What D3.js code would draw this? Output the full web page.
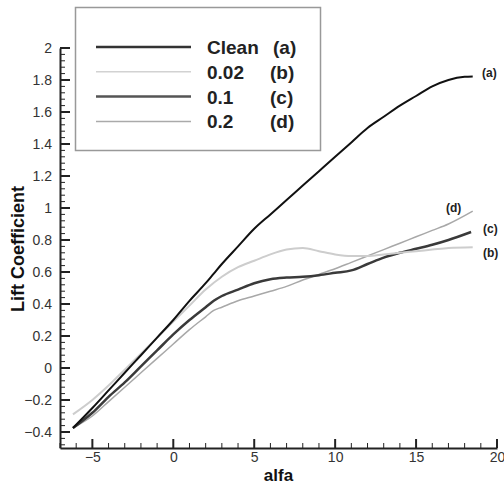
<!DOCTYPE html>
<html>
<head>
<meta charset="utf-8">
<script src="https://cdn.jsdelivr.net/npm/d3@7.9.0/dist/d3.min.js"></script>
<style>
  body { margin: 0; background: #fff; }
  svg { display: block; font-family: "Liberation Sans", Arial, sans-serif; }
</style>
</head>
<body>
<svg id="chart" width="504" height="486"></svg>
<script>
// Angle of attack values for each series
const alfaClean = [-6.2, -5, -4, -3, -2, -1, 0, 1, 2, 2.5, 3, 4, 5, 6, 7, 8, 9, 10, 11, 12, 13, 14, 15, 16, 17, 18, 18.5];
const liftClean = [-0.375, -0.25, -0.14, -0.03, 0.08, 0.19, 0.30, 0.42, 0.53, 0.59, 0.65, 0.76, 0.87, 0.96, 1.05, 1.14, 1.23, 1.32, 1.41, 1.50, 1.57, 1.64, 1.70, 1.76, 1.80, 1.82, 1.822];

const alfa002 = [-6.2, -5, -4, -3, -2, -1, 0, 1, 2, 3, 4, 5, 6, 7, 8, 9, 10, 11, 12, 13, 14, 15, 16, 17, 18.5];
const lift002 = [-0.29, -0.20, -0.11, -0.01, 0.09, 0.19, 0.29, 0.39, 0.49, 0.57, 0.63, 0.67, 0.71, 0.74, 0.75, 0.73, 0.71, 0.70, 0.70, 0.71, 0.72, 0.73, 0.74, 0.75, 0.755];

const alfa01 = [-6.2, -5, -4, -3, -2, -1, 0, 1, 2, 2.5, 3, 4, 5, 6, 7, 8, 9, 10, 11, 12, 13, 14, 15, 16, 17, 18.4];
const lift01 = [-0.375, -0.28, -0.18, -0.09, 0.01, 0.11, 0.21, 0.30, 0.38, 0.42, 0.45, 0.49, 0.53, 0.555, 0.565, 0.57, 0.58, 0.595, 0.61, 0.65, 0.69, 0.72, 0.745, 0.77, 0.80, 0.85];

const alfa02 = [-6.2, -5, -4, -3, -2, -1, 0, 1, 2, 2.5, 3, 4, 5, 6, 7, 8, 9, 10, 11, 12, 13, 14, 15, 16, 17, 18.5];
const lift02 = [-0.375, -0.30, -0.21, -0.12, -0.03, 0.06, 0.15, 0.24, 0.32, 0.36, 0.38, 0.42, 0.45, 0.48, 0.51, 0.55, 0.585, 0.62, 0.66, 0.70, 0.74, 0.78, 0.82, 0.86, 0.90, 0.98];

const seriesNames = ['Clean', '0.02', '0.1', '0.2'];
const seriesTags = ['(a)', '(b)', '(c)', '(d)'];

const xTicks = [-5, 0, 5, 10, 15, 20];
const yTicks = [-0.4, -0.2, 0, 0.2, 0.4, 0.6, 0.8, 1, 1.2, 1.4, 1.6, 1.8, 2];
const xMinorTicks = [-7, -6, -4, -3, -2, -1, 1, 2, 3, 4, 6, 7, 8, 9, 11, 12, 13, 14, 16, 17, 18, 19];
const yMinorTicks = d3.range(-12, 51).filter((k) => k % 5 !== 0).map((k) => k * 0.04);

// Build series table
const series = [
  { name: seriesNames[0], tag: seriesTags[0], pts: d3.zip(alfaClean, liftClean), color: '#111', width: 2, legColor: '#333', legWidth: 2.5 },
  { name: seriesNames[1], tag: seriesTags[1], pts: d3.zip(alfa002, lift002), color: '#cdcdcd', width: 2, legColor: '#d2d2d2', legWidth: 1.5 },
  { name: seriesNames[2], tag: seriesTags[2], pts: d3.zip(alfa01, lift01), color: '#3a3a3a', width: 2.5, legColor: '#555', legWidth: 2.5 },
  { name: seriesNames[3], tag: seriesTags[3], pts: d3.zip(alfa02, lift02), color: '#a8a8a8', width: 1.5, legColor: '#aaa', legWidth: 1.5 },
];

const svg = d3.select('#chart');

// Plot area
const plot = { left: 60, right: 497, top: 48, bottom: 448 };

const xScale = d3.scaleLinear().domain([-7, 20]).range([plot.left, plot.right]);
const yScale = d3.scaleLinear().domain([-0.5, 2]).range([plot.bottom, plot.top]);

const axisColor = '#222';
const labelColor = '#333';

// Tick marks pointing into the plot
const ticks = svg.append('g').attr('stroke', axisColor);

ticks.selectAll('line.xmin')
  .data(xMinorTicks)
  .join('line')
  .attr('class', 'xmin')
  .attr('x1', (d) => xScale(d)).attr('x2', (d) => xScale(d))
  .attr('y1', plot.bottom).attr('y2', plot.bottom - 5)
  .attr('stroke-width', 1);

ticks.selectAll('line.xmaj')
  .data(xTicks)
  .join('line')
  .attr('class', 'xmaj')
  .attr('x1', (d) => xScale(d)).attr('x2', (d) => xScale(d))
  .attr('y1', plot.bottom).attr('y2', plot.bottom - 9)
  .attr('stroke-width', 2);

ticks.selectAll('line.ymin')
  .data(yMinorTicks)
  .join('line')
  .attr('class', 'ymin')
  .attr('x1', plot.left).attr('x2', plot.left + 5)
  .attr('y1', (d) => yScale(d)).attr('y2', (d) => yScale(d))
  .attr('stroke-width', 1);

ticks.selectAll('line.ymaj')
  .data(yTicks)
  .join('line')
  .attr('class', 'ymaj')
  .attr('x1', plot.left).attr('x2', plot.left + 10)
  .attr('y1', (d) => yScale(d)).attr('y2', (d) => yScale(d))
  .attr('stroke-width', 2);

// Axes (labels + domain line)
const xAxis = svg.append('g')
  .attr('transform', `translate(0, ${plot.bottom})`)
  .call(d3.axisBottom(xScale).tickValues(xTicks).tickSize(0).tickPadding(4).tickFormat(d3.format('d')));

const yAxis = svg.append('g')
  .attr('transform', `translate(${plot.left}, 0)`)
  .call(d3.axisLeft(yScale).tickValues(yTicks).tickSize(0).tickPadding(8).tickFormat((d) => d3.format('~g')(+d.toFixed(1))));

[xAxis, yAxis].forEach((ax) => {
  ax.select('.domain').attr('stroke', axisColor).attr('stroke-width', 2);
  ax.selectAll('.tick text')
    .attr('fill', labelColor)
    .style('font-size', '14px')
    .style('font-family', '"Liberation Sans", Arial, sans-serif');
});

// Axis titles
svg.append('text')
  .attr('x', (plot.left + plot.right) / 2)
  .attr('y', 481)
  .attr('text-anchor', 'middle')
  .attr('font-weight', 'bold')
  .attr('font-size', 17)
  .attr('fill', '#111')
  .text('alfa');

svg.append('text')
  .attr('transform', 'translate(24, 249) rotate(-90)')
  .attr('text-anchor', 'middle')
  .attr('font-weight', 'bold')
  .attr('font-size', 18)
  .attr('fill', '#111')
  .text('Lift Coefficient');

// Lines
const line = d3.line()
  .x((d) => xScale(d[0]))
  .y((d) => yScale(d[1]))
  .curve(d3.curveMonotoneX);

svg.append('g')
  .selectAll('path')
  .data(series.slice().reverse())
  .join('path')
  .attr('d', (d) => line(d.pts))
  .attr('fill', 'none')
  .attr('stroke', (d) => d.color)
  .attr('stroke-width', (d) => d.width);

// End labels
const endLabels = [
  { tag: seriesTags[0], x: 482, y: 77 },
  { tag: seriesTags[1], x: 483, y: 257 },
  { tag: seriesTags[2], x: 483, y: 233 },
  { tag: seriesTags[3], x: 446, y: 212 },
];
svg.append('g')
  .selectAll('text')
  .data(endLabels)
  .join('text')
  .attr('x', (d) => d.x)
  .attr('y', (d) => d.y)
  .attr('font-size', 12)
  .attr('font-weight', 'bold')
  .attr('fill', '#222')
  .text((d) => d.tag);

// Legend
const legend = svg.append('g');
legend.append('rect')
  .attr('x', 75.5).attr('y', 7.5)
  .attr('width', 245).attr('height', 143)
  .attr('fill', '#fff')
  .attr('stroke', '#999')
  .attr('stroke-width', 1.5);

const rows = legend.selectAll('g.row')
  .data(series)
  .join('g')
  .attr('transform', (d, i) => `translate(0, ${47 + i * 24.8})`);

rows.append('line')
  .attr('x1', 96).attr('x2', 191)
  .attr('y1', 0).attr('y2', 0)
  .attr('stroke', (d) => d.legColor)
  .attr('stroke-width', (d) => d.legWidth);

rows.append('text')
  .attr('x', 207).attr('y', 7)
  .attr('font-size', 19)
  .attr('font-weight', 'bold')
  .attr('fill', '#222')
  .text((d) => d.name);

rows.append('text')
  .attr('x', (d, i) => (i === 0 ? 273 : 270)).attr('y', 7)
  .attr('font-size', 19)
  .attr('font-weight', 'bold')
  .attr('fill', '#222')
  .text((d) => d.tag);
</script>
</body>
</html>
